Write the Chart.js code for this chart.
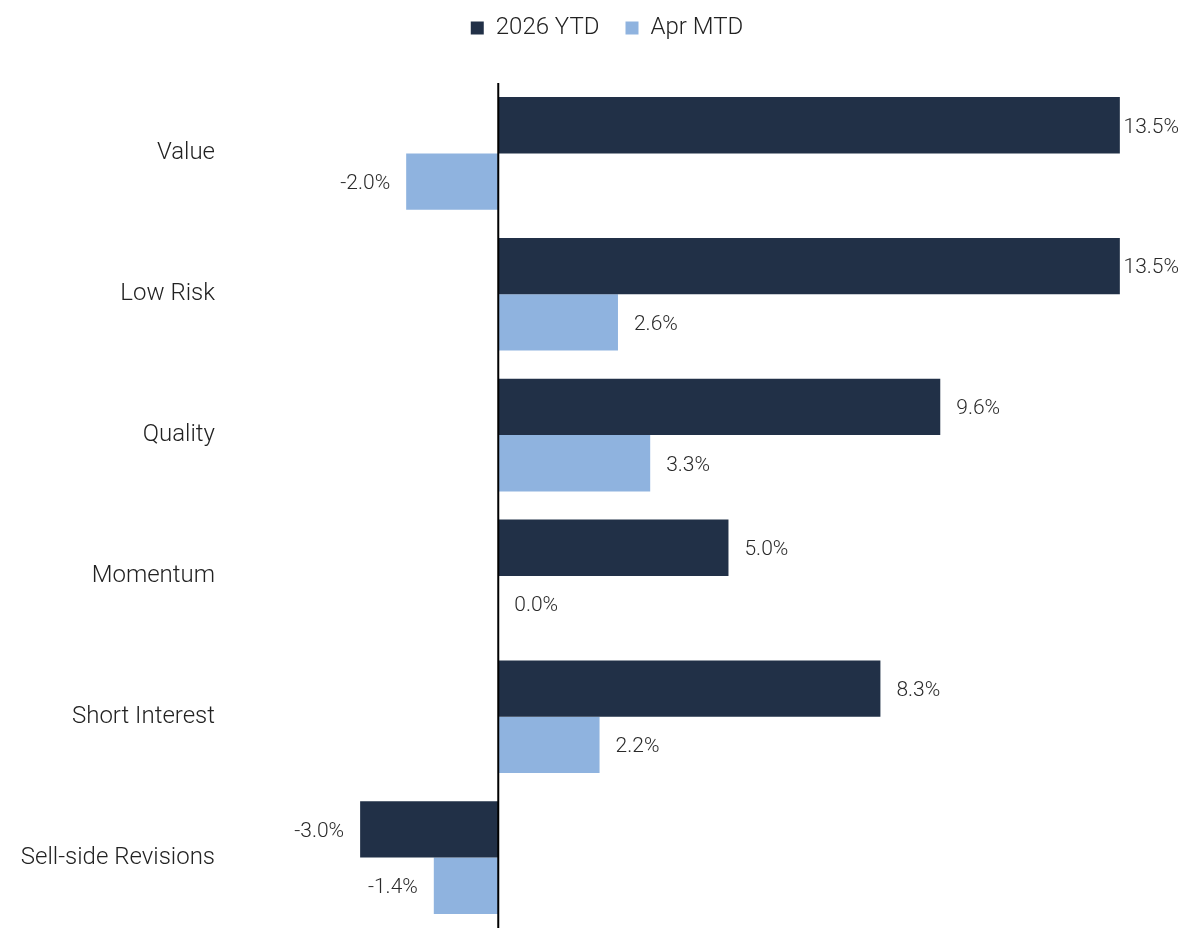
<!DOCTYPE html>
<html>
<head>
<meta charset="utf-8">
<script src="https://cdn.jsdelivr.net/npm/chart.js@4"></script>
<style>
  html, body { margin: 0; padding: 0; background: #fff; }
  #wrap { width: 1183px; height: 928px; }
</style>
</head>
<body>
<div id="wrap"><canvas id="factorChart"></canvas></div>
<script>
// data
var categories = ['Value', 'Low Risk', 'Quality', 'Momentum', 'Short Interest', 'Sell-side Revisions'];
var seriesNames = ['2026 YTD', 'Apr MTD'];
var ytdValues = [13.5, 13.5, 9.6, 5.0, 8.3, -3.0];
var mtdValues = [-2.0, 2.6, 3.3, 0.0, 2.2, -1.4];

var darkNavy = '#213047';
var lightBlue = '#8FB3DF';
var fontFamily = 'Roboto, "Noto Sans", sans-serif';

// value labels next to the bar ends
var barLabels = {
    id: 'barLabels',
    afterDatasetsDraw: function (chart) {
        var ctx = chart.ctx;
        ctx.save();
        ctx.font = '300 21px ' + fontFamily;
        ctx.fillStyle = '#2a2a2a';
        ctx.textBaseline = 'middle';
        ctx.textAlign = 'left';
        chart.data.datasets.forEach(function (ds, i) {
            var meta = chart.getDatasetMeta(i);
            meta.data.forEach(function (bar, j) {
                var v = ds.data[j];
                var txt = v.toFixed(1) + '%';
                var w = ctx.measureText(txt).width;
                var x;
                if (v < 0) {
                    x = bar.x - 16 - w;
                } else {
                    x = bar.x + 16;
                    if (x + w > chart.width - 4) x = chart.width - 4 - w;
                }
                ctx.fillText(txt, x, bar.y + 2);
            });
        });
        ctx.restore();
    }
};

// vertical zero line
var zeroLine = {
    id: 'zeroLine',
    afterDatasetsDraw: function (chart) {
        var x0 = chart.scales.x.getPixelForValue(0);
        var ctx = chart.ctx;
        ctx.save();
        ctx.strokeStyle = '#000';
        ctx.lineWidth = 2;
        ctx.beginPath();
        ctx.moveTo(x0, chart.chartArea.top);
        ctx.lineTo(x0, chart.height);
        ctx.stroke();
        ctx.restore();
    }
};

// extra room under the legend, and nudge it right a little
var legendGap = {
    id: 'legendGap',
    beforeLayout: function (chart) {
        var lg = chart.legend;
        if (lg && !lg._gapPatched) {
            var fit = lg.fit;
            lg.fit = function () {
                fit.apply(this, arguments);
                this.height += 33;
            };
            lg._gapPatched = true;
        }
    },
    afterLayout: function (chart) {
        chart.legend.left += 16;
        chart.legend.right += 16;
    }
};

var ctx = document.getElementById('factorChart');
var myChart = new Chart(ctx, {
    type: 'bar',
    data: {
        labels: categories,
        datasets: [{
            label: seriesNames[0],
            data: ytdValues,
            backgroundColor: darkNavy
        }, {
            label: seriesNames[1],
            data: mtdValues,
            backgroundColor: lightBlue
        }]
    },
    options: {
        indexAxis: 'y',
        responsive: true,
        maintainAspectRatio: false,
        animation: false,
        layout: { padding: { top: -10, right: 1, bottom: -5, left: 0 } },
        datasets: {
            bar: { categoryPercentage: 0.8, barPercentage: 1.0 }
        },
        plugins: {
            legend: {
                position: 'top',
                labels: {
                    font: { family: fontFamily, size: 24, weight: 300 },
                    color: '#222',
                    boxWidth: 13,
                    boxHeight: 13,
                    padding: 26
                }
            },
            tooltip: { enabled: false }
        },
        scales: {
            x: {
                display: false,
                min: -6,
                max: 14.85
            },
            y: {
                grid: { display: false, drawTicks: false },
                border: { display: false },
                ticks: {
                    font: { family: fontFamily, size: 24, weight: 300 },
                    color: '#222',
                    padding: 7
                },
                afterFit: function (scale) {
                    scale.width = 222;
                    scale.paddingTop = 0;
                    scale.paddingBottom = 0;
                }
            }
        }
    },
    plugins: [legendGap, barLabels, zeroLine]
});
</script>
</body>
</html>
